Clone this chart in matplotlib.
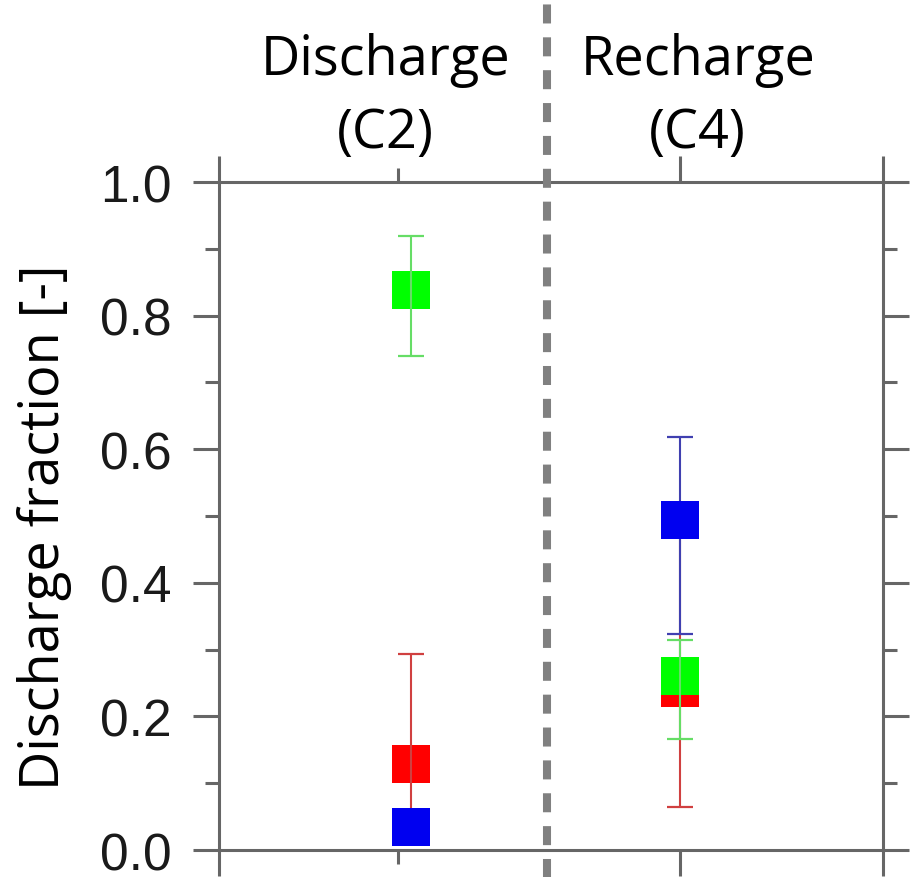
import numpy as np
import matplotlib.pyplot as plt

# group positions on the x axis and header text
groups = ["Discharge\n(C2)", "Recharge\n(C4)"]
x_pos = [1.0, 2.0]

# discharge fractions per source (mean, lower bound, upper bound)
red_mean = [0.128, 0.243]
red_low = [0.030, 0.064]
red_high = [0.293, 0.508]

green_mean = [0.838, 0.260]
green_low = [0.740, 0.166]
green_high = [0.919, 0.314]

blue_mean = [0.035, 0.494]
blue_low = [0.020, 0.323]
blue_high = [0.050, 0.618]

yticks = [0.0, 0.2, 0.4, 0.6, 0.8, 1.0]
ytick_labels = ["0.0", "0.2", "0.4", "0.6", "0.8", "1.0"]

fig = plt.figure(figsize=(9.1, 8.78), dpi=100)
ax = fig.add_axes([0.2407, 0.03075, 0.7297, 0.7608])


def draw(mean, low, high, face, line, cap, z_mark, z_err):
    mean = np.array(mean)
    err = [mean - np.array(low), np.array(high) - mean]
    eb = ax.errorbar(x_pos, mean, yerr=err, fmt="none", ecolor=line,
                     elinewidth=1.5, capsize=9.4, capthick=1.6, zorder=z_err)
    for c in eb[1]:
        c.set_color(cap)
    ax.plot(x_pos, mean, "s", color=face, markersize=28, markeredgewidth=0,
            linestyle="none", zorder=z_mark)


draw(red_mean, red_low, red_high, "#ff0000", "#d04040", "#7a4a4a", 3, 4)
draw(green_mean, green_low, green_high, "#00ff00", "#66dd66", "#66bb66", 5, 6)
draw(blue_mean, blue_low, blue_high, "#0000f0", "#4040b0", "#303060", 7, 6.5)

ax.set_ylim(0, 1)
ax.set_xlim(0.285, 2.755)
ax.set_yticks(yticks)
ax.set_yticklabels(ytick_labels)
ax.set_yticks(np.arange(0.1, 1.0, 0.2), minor=True)
ax.set_xticks([0.285, 2.0, 2.755])
ax.set_xticks([0.952], minor=True)
ax.set_xticklabels([])

spine_c = "#666666"
for s in ax.spines.values():
    s.set_color(spine_c)
    s.set_linewidth(2.2)
ax.tick_params(which="both", direction="out", color=spine_c, width=2.2,
               top=True, right=True, bottom=True, left=True,
               labeltop=False, labelbottom=False, labelright=False)
ax.tick_params(which="major", length=19)
ax.tick_params(which="minor", length=10)
ax.tick_params(axis="y", which="major", pad=15, labelsize=37, labelcolor="#1a1a1a")
for lab in ax.get_yticklabels():
    lab.set_family("Liberation Sans")

ax.set_ylabel("Discharge fraction [-]", family="Open Sans", fontsize=39)
ax.yaxis.set_label_coords(-0.222, 0.485)

# dashed separator between the two groups, running the full figure height
ax.axvline(1.506, ymin=-0.045, ymax=1.28, color="#808080", lw=5.8,
           linestyle=(0, (2.36, 1.72)), clip_on=False, zorder=10)

head_kw = dict(ha="center", va="baseline", family="Open Sans", fontsize=39)
fig.text(0.424, 0.9146, groups[0].split("\n")[0], **head_kw)
fig.text(0.423, 0.8314, groups[0].split("\n")[1], **head_kw)
fig.text(0.767, 0.9146, groups[1].split("\n")[0], **head_kw)
fig.text(0.766, 0.8314, groups[1].split("\n")[1], **head_kw)

fig.savefig("out.png", dpi=100)
